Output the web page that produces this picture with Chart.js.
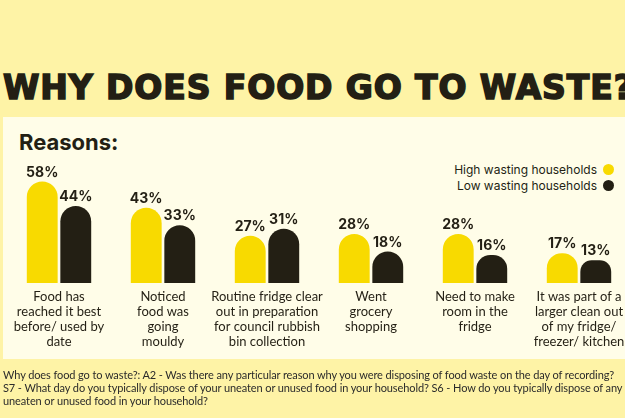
<!DOCTYPE html>
<html>
<head>
<meta charset="utf-8">
<script src="https://cdn.jsdelivr.net/npm/chart.js@4.4.0/dist/chart.umd.min.js"></script>
<style>
  html, body { margin: 0; padding: 0; }
  body { width: 625px; height: 418px; overflow: hidden; position: relative; background: #fef3a6; font-family: Lato, sans-serif; }
  #title { position: absolute; left: 3px; top: 68px; margin: 0; white-space: nowrap; font-family: "DejaVu Sans", sans-serif; font-weight: bold; font-size: 33px; letter-spacing: 0.9px; color: #231f14; -webkit-text-stroke: 1.6px #231f14; }
  #panel { position: absolute; left: 3px; top: 117px; width: 640px; height: 242px; background: #fffde8; }
  #sub { position: absolute; left: 19px; top: 129px; font-family: Inter, sans-serif; font-weight: 700; font-size: 22px; color: #231f14; }
  #legend { position: absolute; right: 11px; top: 162px; font-family: Inter, sans-serif; font-size: 12px; color: #231f14; text-align: right; line-height: 15.5px; }
  #legend span.dot { display: inline-block; width: 11px; height: 11px; border-radius: 50%; margin-left: 6px; vertical-align: -1px; }
  #wrap { position: absolute; left: 0; top: 0; width: 640px; height: 418px; }
  #note { position: absolute; left: 3px; top: 368px; white-space: nowrap; font-size: 11px; letter-spacing: -0.1px; line-height: 13px; color: #2b2b2b; }
</style>
</head>
<body>
<div id="panel"></div>
<h1 id="title">WHY DOES FOOD GO TO WASTE?</h1>
<div id="sub">Reasons:</div>
<div id="legend"></div>
<div id="wrap"><canvas id="c" width="640" height="418"></canvas></div>
<div id="note">Why does food go to waste?: A2 - Was there any particular reason why you were disposing of food waste on the day of recording?<br>S7 - What day do you typically dispose of your uneaten or unused food in your household? S6 - How do you typically dispose of any<br>uneaten or unused food in your household?</div>
<script>
const reasons = [
  ['Food has', 'reached it best', 'before/ used by', 'date'],
  ['Noticed', 'food was', 'going', 'mouldy'],
  ['Routine fridge clear', 'out in preparation', 'for council rubbish', 'bin collection'],
  ['Went', 'grocery', 'shopping'],
  ['Need to make', 'room in the', 'fridge'],
  ['It was part of a', 'larger clean out', 'of my fridge/', 'freezer/ kitchen']
];
const seriesNames = ['High wasting households', 'Low wasting households'];
const highWasting = [58, 43, 27, 28, 28, 17];
const lowWasting = [44, 33, 31, 18, 16, 13];
const colors = ['#f8da00', '#231f14'];

// legend in html, text then dot
document.getElementById('legend').innerHTML = seriesNames.map((n, i) =>
  n + '<span class="dot" style="background:' + colors[i] + '"></span>').join('<br>');

const valueLabels = {
  id: 'valueLabels',
  afterDatasetsDraw(chart) {
    const ctx = chart.ctx;
    ctx.save();
    ctx.font = 'bold 14px Inter, sans-serif';
    ctx.fillStyle = '#231f14';
    ctx.textAlign = 'center';
    ctx.textBaseline = 'alphabetic';
    chart.data.datasets.forEach((ds, i) => {
      chart.getDatasetMeta(i).data.forEach((bar, j) => {
        ctx.fillText(ds.data[j] + '%', bar.x, bar.y - 5);
      });
    });
    ctx.restore();
  }
};

new Chart(document.getElementById('c'), {
  type: 'bar',
  data: {
    labels: reasons,
    datasets: [
      { label: seriesNames[0], data: highWasting, backgroundColor: colors[0] },
      { label: seriesNames[1], data: lowWasting, backgroundColor: colors[1] }
    ]
  },
  options: {
    responsive: false,
    animation: false,
    layout: { padding: { left: 7, right: 9, top: 108, bottom: 0 } },
    datasets: {
      bar: {
        categoryPercentage: 0.645,
        barPercentage: 0.92,
        borderRadius: { topLeft: 16, topRight: 16, bottomLeft: 0, bottomRight: 0 },
        borderSkipped: 'bottom'
      }
    },
    plugins: { legend: { display: false }, tooltip: { enabled: false } },
    scales: {
      x: {
        grid: { display: false, drawTicks: false },
        border: { display: false },
        ticks: {
          color: '#231f14',
          padding: 6,
          maxRotation: 0,
          autoSkip: false,
          font: { family: 'Lato, sans-serif', size: 13, lineHeight: 1.15 }
        },
        afterFit(scale) { scale.height = 135; }
      },
      y: { display: false, min: 0, max: 100 }
    }
  },
  plugins: [valueLabels]
});
</script>
</body>
</html>
